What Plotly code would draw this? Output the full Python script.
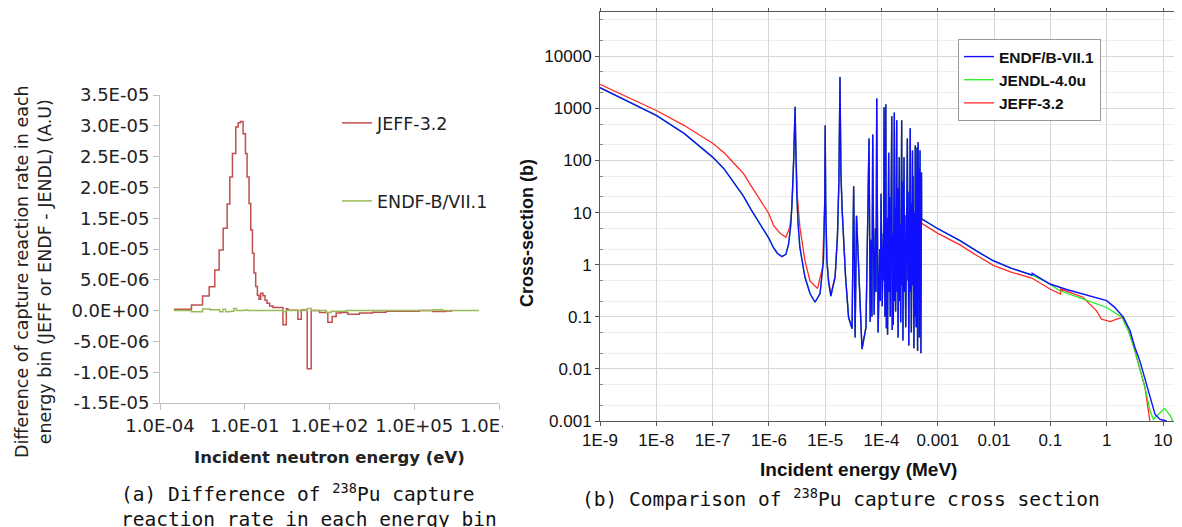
import plotly.graph_objects as go

# page is 1182x527; the page body has an 8px margin, so the figure is drawn at (8, 8)
W, H = 1182, 527
OFF = 8
FW, FH = W - OFF, H - OFF

# ---------------- (a) left panel data: step histogram (eV) ----------------
jeff_edges = [3.1e-4, 1.3e-3, 3.2e-3, 5.5e-3, 8.7e-3, 1.24e-2, 1.72e-2, 2.38e-2, 2.96e-2, 3.67e-2,
              4.81e-2, 5.82e-2, 7.03e-2, 8.73e-2, 0.106, 0.121, 0.142, 0.163, 0.187, 0.213,
              0.244, 0.28, 0.321, 0.367, 0.444, 0.522, 0.614, 0.762, 1.0, 2.25,
              2.96, 3.38, 7.6, 10.0, 16.3, 22.5, 44.4, 87.3, 124.0, 172.0,
              251.0, 444.0, 1146.0, 3380.0, 1.0e4, 1.5e5, 4.44e5, 1.31e6, 2.25e6]
jeff_diff = [0.23e-6, 0.92e-6, 2.38e-6, 3.89e-6, 6.6e-6, 9.84e-6, 13.35e-6, 17.3e-6, 21.7e-6, 25.5e-6,
             29.8e-6, 30.5e-6, 30.7e-6, 28.7e-6, 25.5e-6, 21.7e-6, 17.4e-6, 13.1e-6, 9.3e-6, 6.1e-6,
             3.9e-6, 2.5e-6, 1.85e-6, 2.8e-6, 2.4e-6, 1.7e-6, 1.2e-6, 0.76e-6, 0.5e-6, -2.3e-6,
             0.3e-6, 0.05e-6, -1.4e-6, 0.1e-6, -9.45e-6, 0.0, -0.3e-6, -1.9e-6, -0.97e-6, -0.4e-6,
             -0.3e-6, -0.6e-6, -0.4e-6, -0.25e-6, -0.1e-6, 0.0, -0.15e-6, -0.05e-6]

endf_edges = [3.1e-4, 1.3e-3, 3.2e-3, 5.8e-3, 1.3e-2, 1.7e-2, 2.1e-2, 2.95e-2, 4.1e-2, 5.1e-2,
              0.1, 0.13, 2.25, 2.96, 16.3, 22.5, 77.0, 115.0, 225.0, 387.0,
              4.4e5, 1.0e6, 1.95e7]
endf_diff = [0.0, -0.2e-6, 0.25e-6, 0.15e-6, -0.2e-6, 0.2e-6, -0.2e-6, -0.1e-6, 0.35e-6, 0.0,
             0.1e-6, 0.0, -0.2e-6, 0.0, 0.35e-6, 0.0, -0.3e-6, -0.1e-6, -0.1e-6, 0.0,
             0.15e-6, 0.0]

a_ytickvals = [-1.5e-5, -1.0e-5, -5.0e-6, 0.0, 5.0e-6, 1.0e-5, 1.5e-5, 2.0e-5, 2.5e-5, 3.0e-5, 3.5e-5]
a_yticktext = ["-1.5E-05", "-1.0E-05", "-5.0E-06", "0.0E+00", "5.0E-06", "1.0E-05",
               "1.5E-05", "2.0E-05", "2.5E-05", "3.0E-05", "3.5E-05"]
a_xtickvals = [1e-4, 1e-1, 1e2, 1e5, 1e8]
a_xticktext = ["1.0E-04", "1.0E-01", "1.0E+02", "1.0E+05", "1.0E+08"]

# ---------------- (b) right panel data: cross sections (MeV, barn) ----------------
endf_lo_e = [1e-9, 2e-9, 4e-9, 1e-8, 3.16e-8, 6e-8, 1e-7, 1.6e-7, 2.5e-7, 3.5e-7,
             4.8e-7, 6.9e-7, 1e-6, 1.2e-6, 1.41e-6, 1.7e-6, 2.0e-6, 2.24e-6, 2.45e-6, 2.57e-6,
             2.68e-6, 2.75e-6, 2.85e-6, 2.92e-6, 2.98e-6, 3.05e-6, 3.13e-6, 3.3e-6, 3.55e-6, 4.36e-6,
             5.37e-6, 6.6e-6, 8.1e-6, 9.3e-6, 9.8e-6, 1.0e-5, 1.02e-5, 1.07e-5, 1.15e-5, 1.26e-5,
             1.5e-5, 1.65e-5, 1.75e-5]
endf_lo_xs = [2500, 1740, 1200, 733, 327, 188, 116, 69, 36, 21,
              11.5, 6.0, 3.2, 2.14, 1.66, 1.43, 1.58, 2.5, 6, 14.8,
              40, 100, 400, 1070, 250, 60, 23, 6, 2.14, 0.58,
              0.28, 0.19, 0.28, 1.2, 15, 470, 15, 1.2, 0.45, 0.25,
              0.58, 3.5, 40]

jeff_lo_e = [1e-9, 2e-9, 4e-9, 1e-8, 3.16e-8, 6e-8, 1e-7, 1.6e-7, 2.5e-7, 3.5e-7,
             4.8e-7, 6.9e-7, 1e-6, 1.2e-6, 1.58e-6, 2.0e-6, 2.34e-6, 2.5e-6, 2.6e-6, 2.68e-6,
             2.75e-6, 2.85e-6, 2.92e-6, 2.98e-6, 3.05e-6, 3.2e-6, 3.55e-6, 4.36e-6, 5.37e-6, 7.3e-6,
             9.0e-6, 9.8e-6, 1.0e-5, 1.02e-5, 1.07e-5, 1.15e-5, 1.26e-5, 1.5e-5, 1.65e-5, 1.75e-5]
jeff_lo_xs = [2900, 2040, 1445, 910, 468, 309, 214, 141, 85, 57,
              33, 17.8, 9.5, 5.75, 4.0, 3.35, 5.2, 9, 17, 40,
              100, 400, 1070, 260, 70, 20, 5.2, 1.2, 0.49, 0.35,
              0.9, 16, 470, 16, 1.3, 0.5, 0.27, 0.6, 3.6, 40]

res_e = [1.83e-5, 1.9e-5, 2.0e-5, 2.3e-5, 2.6e-5, 3.0e-5, 3.2e-5, 3.4e-5, 3.6e-5, 4.5e-5, 5.3e-5,
         6.0e-5, 6.3e-5, 6.55e-5, 6.75e-5, 6.98e-5, 7.4e-5, 7.8e-5, 8.0e-5, 8.22e-5, 8.7e-5,
         9.3e-5, 9.5e-5, 9.82e-5, 1.03e-4, 1.08e-4, 1.09e-4, 1.11e-4, 1.15e-4, 1.19e-4, 1.22e-4,
         1.24e-4, 1.28e-4, 1.34e-4, 1.37e-4, 1.39e-4, 1.43e-4, 1.52e-4, 1.55e-4, 1.57e-4, 1.62e-4,
         1.69e-4, 1.72e-4, 1.74e-4, 1.78e-4, 1.86e-4, 1.9e-4, 1.93e-4, 1.97e-4, 2.07e-4, 2.1e-4,
         2.13e-4, 2.19e-4, 2.28e-4, 2.32e-4, 2.35e-4, 2.40e-4, 2.51e-4, 2.56e-4, 2.6e-4, 2.69e-4,
         2.88e-4, 2.93e-4, 2.97e-4, 3.05e-4, 3.24e-4, 3.28e-4, 3.31e-4, 3.39e-4, 3.55e-4, 3.6e-4,
         3.65e-4, 3.76e-4, 3.88e-4, 3.92e-4, 3.98e-4, 4.12e-4, 4.2e-4, 4.23e-4, 4.27e-4, 4.37e-4,
         4.47e-4, 4.55e-4, 4.6e-4, 4.68e-4, 4.83e-4, 4.88e-4, 4.92e-4, 5.01e-4, 5.13e-4, 5.15e-4]
res_xs = [4000, 60, 11, 0.58, 0.098, 0.059, 32, 0.04, 8.7, 0.024, 0.063,
          263, 0.08, 3.0, 0.1, 316, 0.11, 5, 0.3, 1550, 0.05,
          2.0, 0.2, 23, 0.16, 4, 0.5, 1050, 0.1, 1200, 0.06,
          8, 0.045, 141, 0.3, 20, 0.1, 710, 0.056, 4, 0.07,
          830, 0.2, 12, 0.126, 590, 0.3, 30, 0.04, 115, 0.2,
          6, 0.079, 590, 0.4, 40, 0.035, 115, 0.3, 9, 0.063,
          263, 0.5, 25, 0.028, 417, 0.3, 15, 0.05, 155, 0.4,
          50, 0.025, 10, 0.1, 195, 0.063, 30, 0.3, 178, 0.022,
          224, 0.5, 70, 0.04, 155, 0.3, 20, 0.02, 59, 0.025]

cont_e = [5.16e-4, 1.0e-3, 2.48e-3, 5.0e-3, 9.7e-3, 2.0e-2, 4.66e-2]
cont_xs = [7.6, 4.9, 2.9, 1.8, 1.19, 0.86, 0.634]

endf_fast_e = [4.75e-2, 9.83e-2, 0.2, 0.385, 0.66, 1.0, 1.4, 1.97, 2.6, 3.16, 3.89, 4.79, 5.9,
               7.2, 8.85, 11.7]
endf_fast_xs = [0.68, 0.426, 0.33, 0.273, 0.235, 0.204, 0.15, 0.098, 0.054, 0.026, 0.0141, 0.0063,
                0.00282, 0.00135, 0.00107, 0.001]

jendl_fast_e = [8.7e-2, 0.148, 0.385, 1.0, 1.86, 2.5, 3.16, 4.79, 5.9, 6.76, 8.3, 10.7, 13.5, 15.1]
jendl_fast_xs = [0.457, 0.316, 0.219, 0.151, 0.098, 0.05, 0.0224, 0.00437, 0.00155, 0.00107,
                 0.00135, 0.00174, 0.00126, 0.00093]

jeff_hi_e = [5.16e-4, 1.0e-3, 2.48e-3, 5.0e-3, 9.7e-3, 2.0e-2, 4.66e-2, 9.83e-2, 0.151, 0.152,
             0.385, 0.5, 0.66, 0.81, 1.15, 1.51, 1.97, 2.5, 3.16, 4.79, 5.5, 5.9]
jeff_hi_xs = [6.2, 4.0, 2.4, 1.48, 0.97, 0.72, 0.555, 0.341, 0.273, 0.341,
              0.235, 0.175, 0.13, 0.09, 0.081, 0.09, 0.098, 0.05, 0.0224, 0.00437, 0.00145, 0.00093]

b_ytickvals = [1e-3, 1e-2, 1e-1, 1, 10, 100, 1000, 10000]
b_yticktext = ["0.001", "0.01", "0.1", "1", "10", "100", "1000", "10000"]
b_xtickvals = [1e-9, 1e-8, 1e-7, 1e-6, 1e-5, 1e-4, 1e-3, 1e-2, 1e-1, 1, 10]
b_xticktext = ["1E-9", "1E-8", "1E-7", "1E-6", "1E-5", "1E-4", "0.001", "0.01", "0.1", "1", "10"]
b_minor = [m * 10.0 ** k for k in range(-3, 5) for m in (2, 5)]

# composed series
endf_e = endf_lo_e + res_e + cont_e + endf_fast_e
endf_xs = endf_lo_xs + res_xs + cont_xs + endf_fast_xs
jendl_e = endf_lo_e + res_e + cont_e + jendl_fast_e
jendl_xs = endf_lo_xs + res_xs + cont_xs + jendl_fast_xs
jeff_e = jeff_lo_e + res_e + jeff_hi_e
jeff_xs = jeff_lo_xs + res_xs + jeff_hi_xs


def px(x):
    return (x - OFF) / FW


def py(y):
    return 1 - (y - OFF) / FH


fig = go.Figure()

# left panel traces
fig.add_trace(go.Scatter(x=jeff_edges, y=jeff_diff + [jeff_diff[-1]], mode="lines", line_shape="hv",
                         line=dict(color="#c0504d", width=1.5), name="JEFF-3.2",
                         xaxis="x", yaxis="y", legend="legend"))
fig.add_trace(go.Scatter(x=endf_edges, y=endf_diff + [endf_diff[-1]], mode="lines", line_shape="hv",
                         line=dict(color="#9bbb59", width=1.5), name="ENDF-B/VII.1",
                         xaxis="x", yaxis="y", legend="legend2"))

# right panel traces (draw order: JEFF, JENDL, ENDF on top)
fig.add_trace(go.Scatter(x=jeff_e, y=jeff_xs, mode="lines", line=dict(color="#ff2a2a", width=1.3),
                         name="JEFF-3.2", xaxis="x2", yaxis="y2", legend="legend3"))
fig.add_trace(go.Scatter(x=jendl_e, y=jendl_xs, mode="lines", line=dict(color="#22ee22", width=1.3),
                         name="JENDL-4.0u", xaxis="x2", yaxis="y2", legend="legend3"))
fig.add_trace(go.Scatter(x=endf_e, y=endf_xs, mode="lines", line=dict(color="#1010ff", width=1.4),
                         name="ENDF/B-VII.1", xaxis="x2", yaxis="y2", legend="legend3"))

tickfont_a = dict(family="DejaVu Sans", size=18, color="#222")
tickfont_b = dict(family="Liberation Sans", size=17, color="#111")

fig.update_layout(
    template="none",
    width=FW, height=FH, margin=dict(l=0, r=0, t=0, b=0, autoexpand=False),
    paper_bgcolor="white", plot_bgcolor="white",
    xaxis=dict(domain=[px(160), px(499)], type="log", range=[-4, 8], anchor="y", automargin=False,
               tickmode="array", tickvals=a_xtickvals, ticktext=a_xticktext, tickfont=tickfont_a,
               showline=True, linecolor="#bfbfbf", linewidth=1, ticks="outside", ticklen=6,
               tickcolor="#bfbfbf", showgrid=False, zeroline=False),
    yaxis=dict(domain=[py(403), py(95)], range=[-1.5e-5, 3.5e-5], anchor="x", automargin=False,
               tickmode="array", tickvals=a_ytickvals, ticktext=a_yticktext, tickfont=tickfont_a,
               showline=True, linecolor="#bfbfbf", linewidth=1, ticks="outside", ticklen=6,
               tickcolor="#bfbfbf", showgrid=False, zeroline=False),
    xaxis2=dict(domain=[px(600), 1.0], type="log", range=[-9, 1.337], anchor="y2", automargin=False,
                tickmode="array", tickvals=b_xtickvals, ticktext=b_xticktext, tickfont=tickfont_b,
                showline=True, linecolor="#555", linewidth=1, mirror="ticks", ticks="outside",
                ticklen=4, tickcolor="#555", showgrid=True, gridcolor="#d6d6d6", gridwidth=1,
                zeroline=False),
    yaxis2=dict(domain=[py(421), py(12)], type="log", range=[-3.0, 4.85], anchor="x2", automargin=False,
                tickmode="array", tickvals=b_ytickvals, ticktext=b_yticktext, tickfont=tickfont_b,
                showline=True, linecolor="#555", linewidth=1, ticks="outside", ticklen=4,
                tickcolor="#555", showgrid=True, gridcolor="#d6d6d6", gridwidth=1, zeroline=False,
                minor=dict(tickmode="array", tickvals=b_minor, showgrid=True, gridcolor="#eeeeee",
                           ticks="inside", ticklen=3, tickcolor="#888")),
    legend=dict(x=px(337), y=py(123), xanchor="left", yanchor="middle", bgcolor="rgba(0,0,0,0)",
                font=dict(family="DejaVu Sans", size=17.5, color="#222")),
    legend2=dict(x=px(337), y=py(201), xanchor="left", yanchor="middle", bgcolor="rgba(0,0,0,0)",
                 font=dict(family="DejaVu Sans", size=17.5, color="#222")),
    legend3=dict(x=px(958), y=py(39), xanchor="left", yanchor="top", bgcolor="white",
                 bordercolor="#999", borderwidth=1, traceorder="reversed",
                 font=dict(family="Liberation Sans", size=15.5, color="#111", weight="bold")),
    showlegend=True,
)

ann = [
    dict(text="Difference of capture reaction rate in each<br>energy bin (JEFF or ENDF - JENDL) (A.U)",
         x=px(33), y=py(272), textangle=-90, font=dict(family="DejaVu Sans", size=17.5, color="#222")),
    dict(text="<b>Incident neutron energy (eV)</b>", x=px(329), y=py(457),
         font=dict(family="DejaVu Sans", size=16.5, color="#222")),
    dict(text="(a) Difference of <sup>238</sup>Pu capture", x=px(297), y=py(493),
         font=dict(family="DejaVu Sans Mono", size=19.5, color="#111")),
    dict(text="reaction rate in each energy bin", x=px(309), y=py(519),
         font=dict(family="DejaVu Sans Mono", size=19.5, color="#111")),
    dict(text="<b>Cross-section (b)</b>", x=px(527), y=py(233), textangle=-90,
         font=dict(family="Liberation Sans", size=18, color="#111")),
    dict(text="<b>Incident energy (MeV)</b>", x=px(858), y=py(469),
         font=dict(family="Liberation Sans", size=19, color="#111")),
    dict(text="(b) Comparison of <sup>238</sup>Pu capture cross section", x=px(841), y=py(498),
         font=dict(family="DejaVu Sans Mono", size=19.5, color="#111")),
]
for a in ann:
    a.update(xref="paper", yref="paper", showarrow=False, xanchor="center", yanchor="middle")
fig.update_layout(annotations=ann)

# crop of the left image (hides part of the last tick label like the original figure)
fig.add_shape(type="rect", xref="paper", yref="paper", x0=px(503), x1=px(548), y0=py(446), y1=py(416),
              fillcolor="white", line=dict(width=0), layer="above")

fig.write_html("out.html")
